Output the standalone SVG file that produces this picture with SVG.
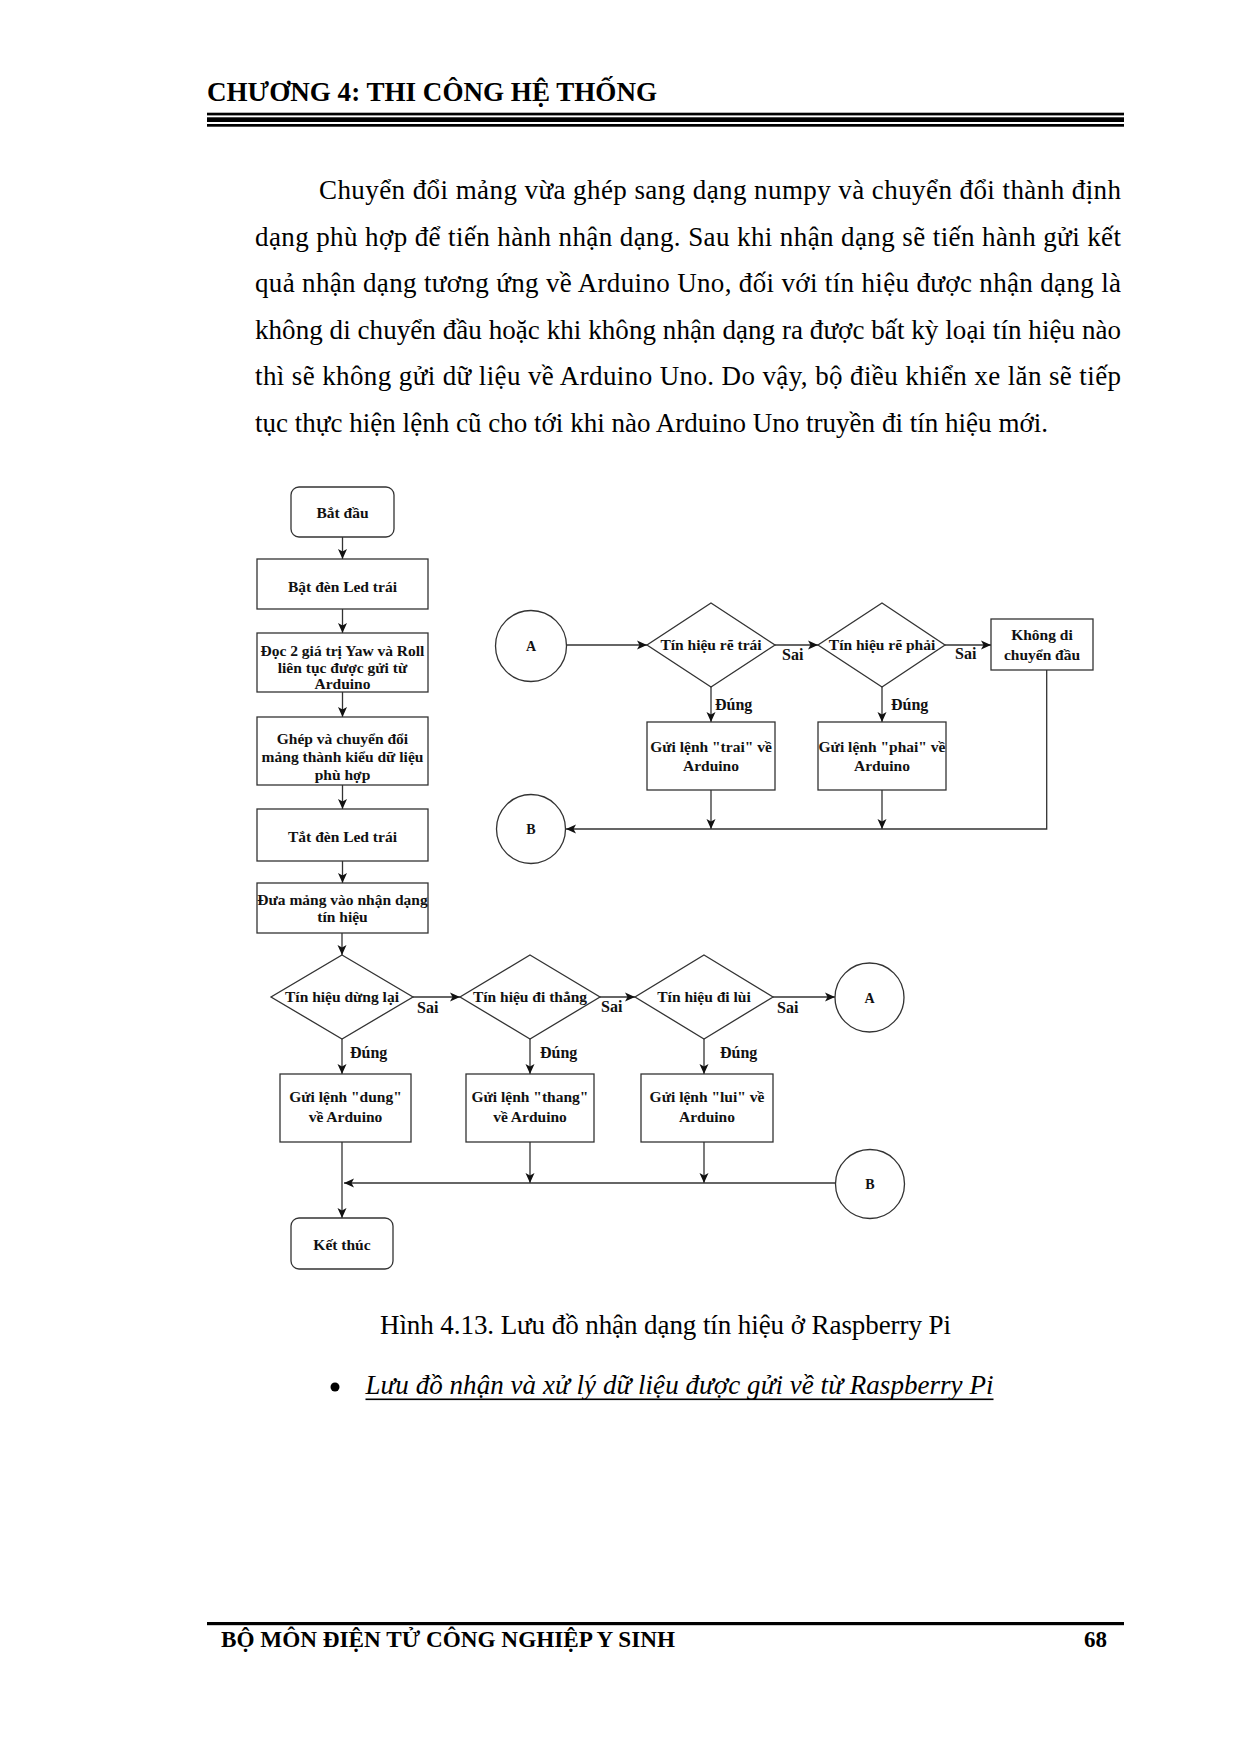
<svg xmlns="http://www.w3.org/2000/svg" width="1241" height="1753" viewBox="0 0 1241 1753">
<style>
.page{font-family:"Liberation Serif","Times New Roman",serif;fill:#000}
.body{font-size:27px}
.hdr{font-size:27px;font-weight:bold}
.ftr{font-size:23px;font-weight:bold}
.nt{font-family:"Liberation Serif","Times New Roman",serif;font-size:15.5px;font-weight:bold;fill:#111;text-anchor:middle}
.lbl{font-family:"Liberation Serif","Times New Roman",serif;font-size:16px;font-weight:bold;fill:#111}
.cl{font-family:"Liberation Serif","Times New Roman",serif;font-size:14px;font-weight:bold;fill:#111;text-anchor:middle}
.box{fill:#fff;stroke:#333;stroke-width:1.3}
.con{fill:none;stroke:#333;stroke-width:1.3}
.arr{marker-end:url(#ah)}
</style>
<defs>
<marker id="ah" markerWidth="11" markerHeight="11" refX="10" refY="5.5" orient="auto" markerUnits="userSpaceOnUse">
<path d="M0,1 L10,5.5 L0,10 L2.5,5.5 z" fill="#111"/>
</marker>
</defs>
<rect width="1241" height="1753" fill="#fff"/>

<g id="header" class="page">
<text class="hdr" x="207" y="101" textLength="450" lengthAdjust="spacingAndGlyphs">CHƯƠNG 4: THI CÔNG HỆ THỐNG</text>
<rect x="207" y="112.7" width="917" height="2.7"/>
<rect x="207" y="117.3" width="917" height="4.7"/>
<rect x="207" y="124" width="917" height="2.7"/>
</g>

<g id="paragraph" class="page body">
<text x="319" y="199" textLength="802" lengthAdjust="spacing">Chuyển đổi mảng vừa ghép sang dạng numpy và chuyển đổi thành định</text>
<text x="255" y="245.5" textLength="866" lengthAdjust="spacing">dạng phù hợp để tiến hành nhận dạng. Sau khi nhận dạng sẽ tiến hành gửi kết</text>
<text x="255" y="292" textLength="866" lengthAdjust="spacing">quả nhận dạng tương ứng về Arduino Uno, đối với tín hiệu được nhận dạng là</text>
<text x="255" y="338.5" textLength="866" lengthAdjust="spacing">không di chuyển đầu hoặc khi không nhận dạng ra được bất kỳ loại tín hiệu nào</text>
<text x="255" y="385" textLength="866" lengthAdjust="spacing">thì sẽ không gửi dữ liệu về Arduino Uno. Do vậy, bộ điều khiển xe lăn sẽ tiếp</text>
<text x="255" y="431.5" textLength="793" lengthAdjust="spacing">tục thực hiện lệnh cũ cho tới khi nào Arduino Uno truyền đi tín hiệu mới.</text>
</g>

<g id="connectors">
<line class="con arr" x1="342.5" y1="537" x2="342.5" y2="559"/>
<line class="con arr" x1="342.5" y1="609" x2="342.5" y2="633"/>
<line class="con arr" x1="342.5" y1="692" x2="342.5" y2="717"/>
<line class="con arr" x1="342.5" y1="785" x2="342.5" y2="809"/>
<line class="con arr" x1="342.5" y1="861" x2="342.5" y2="883"/>
<line class="con arr" x1="342" y1="933" x2="342" y2="955"/>
<line class="con arr" x1="413" y1="997" x2="460" y2="997"/>
<line class="con arr" x1="600" y1="997" x2="635" y2="997"/>
<line class="con arr" x1="773" y1="997" x2="835" y2="997"/>
<line class="con arr" x1="342" y1="1039" x2="342" y2="1074"/>
<line class="con arr" x1="530" y1="1039" x2="530" y2="1074"/>
<line class="con arr" x1="704" y1="1039" x2="704" y2="1074"/>
<line class="con arr" x1="342" y1="1142" x2="342" y2="1218"/>
<line class="con arr" x1="530" y1="1142" x2="530" y2="1183"/>
<line class="con arr" x1="704" y1="1142" x2="704" y2="1183"/>
<line class="con arr" x1="835.5" y1="1183" x2="344" y2="1183"/>
<line class="con arr" x1="566.5" y1="645" x2="647" y2="645"/>
<line class="con arr" x1="775" y1="645" x2="818" y2="645"/>
<line class="con arr" x1="945" y1="645" x2="991" y2="645"/>
<line class="con arr" x1="711" y1="687" x2="711" y2="722"/>
<line class="con arr" x1="882" y1="687" x2="882" y2="722"/>
<line class="con arr" x1="711" y1="790" x2="711" y2="829"/>
<line class="con arr" x1="882" y1="790" x2="882" y2="829"/>
<polyline class="con arr" points="1046.7,670 1046.7,829 566,829"/>
</g>

<g id="n-start"><rect class="box" x="291" y="487" width="103" height="50" rx="8"/><text class="nt" x="342.5" y="518">Bắt đầu</text></g>
<g id="n-ledon"><rect class="box" x="257" y="559" width="171" height="50"/><text class="nt" x="342.5" y="592">Bật đèn Led trái</text></g>
<g id="n-read"><rect class="box" x="257" y="633" width="171" height="59"/><text class="nt" x="342.5" y="655.5">Đọc 2 giá trị Yaw và Roll</text><text class="nt" x="342.5" y="672.5">liên tục được gửi từ</text><text class="nt" x="342.5" y="689">Arduino</text></g>
<g id="n-merge"><rect class="box" x="257" y="717" width="171" height="68"/><text class="nt" x="342.5" y="743.5">Ghép và chuyển đổi</text><text class="nt" x="342.5" y="762">mảng thành kiểu dữ liệu</text><text class="nt" x="342.5" y="780">phù hợp</text></g>
<g id="n-ledoff"><rect class="box" x="257" y="809" width="171" height="52"/><text class="nt" x="342.5" y="842">Tắt đèn Led trái</text></g>
<g id="n-recog"><rect class="box" x="257" y="883" width="171" height="50"/><text class="nt" x="342.5" y="905">Đưa mảng vào nhận dạng</text><text class="nt" x="342.5" y="922">tín hiệu</text></g>

<g id="d-stop"><polygon class="box" points="342,955 413,997 342,1039 271,997"/><text class="nt" x="342" y="1001.5">Tín hiệu dừng lại</text></g>
<g id="d-straight"><polygon class="box" points="530,955 600,997 530,1039 460,997"/><text class="nt" x="530" y="1001.5">Tín hiệu đi thẳng</text></g>
<g id="d-back"><polygon class="box" points="704,955 773,997 704,1039 635,997"/><text class="nt" x="704" y="1001.5">Tín hiệu đi lùi</text></g>
<g id="c-a2"><circle class="box" cx="869.5" cy="997.5" r="34.5"/><text class="cl" x="869.5" y="1002.5">A</text></g>
<g id="n-dung"><rect class="box" x="280" y="1074" width="131" height="68"/><text class="nt" x="345.5" y="1102">Gửi lệnh "dung"</text><text class="nt" x="345.5" y="1122">về Arduino</text></g>
<g id="n-thang"><rect class="box" x="466" y="1074" width="128" height="68"/><text class="nt" x="530" y="1102">Gửi lệnh "thang"</text><text class="nt" x="530" y="1122">về Arduino</text></g>
<g id="n-lui"><rect class="box" x="641" y="1074" width="132" height="68"/><text class="nt" x="707" y="1102">Gửi lệnh "lui" về</text><text class="nt" x="707" y="1122">Arduino</text></g>
<g id="c-b2"><circle class="box" cx="870" cy="1184" r="34.5"/><text class="cl" x="870" y="1189">B</text></g>
<g id="n-end"><rect class="box" x="291" y="1218" width="102" height="51" rx="8"/><text class="nt" x="342" y="1250">Kết thúc</text></g>

<g id="c-a1"><circle class="box" cx="531" cy="646" r="35.5"/><text class="cl" x="531" y="651">A</text></g>
<g id="d-left"><polygon class="box" points="711,603 775,645 711,687 647,645"/><text class="nt" x="711" y="649.5">Tín hiệu rẽ trái</text></g>
<g id="d-right"><polygon class="box" points="882,603 945,645 882,687 818,645"/><text class="nt" x="882" y="649.5">Tín hiệu rẽ phải</text></g>
<g id="n-nomove"><rect class="box" x="991" y="619" width="102" height="51"/><text class="nt" x="1042" y="640">Không di</text><text class="nt" x="1042" y="659.5">chuyển đầu</text></g>
<g id="n-trai"><rect class="box" x="647" y="722" width="128" height="68"/><text class="nt" x="711" y="752">Gửi lệnh "trai" về</text><text class="nt" x="711" y="771">Arduino</text></g>
<g id="n-phai"><rect class="box" x="818" y="722" width="128" height="68"/><text class="nt" x="882" y="752">Gửi lệnh "phai" về</text><text class="nt" x="882" y="771">Arduino</text></g>
<g id="c-b1"><circle class="box" cx="531" cy="829" r="34.5"/><text class="cl" x="531" y="834">B</text></g>

<g id="labels">
<text class="lbl" x="782" y="660">Sai</text>
<text class="lbl" x="955" y="659">Sai</text>
<text class="lbl" x="715" y="709.5">Đúng</text>
<text class="lbl" x="891" y="709.5">Đúng</text>
<text class="lbl" x="417" y="1013">Sai</text>
<text class="lbl" x="601" y="1011.5">Sai</text>
<text class="lbl" x="777" y="1012.5">Sai</text>
<text class="lbl" x="350" y="1058">Đúng</text>
<text class="lbl" x="540" y="1058">Đúng</text>
<text class="lbl" x="720" y="1058">Đúng</text>
</g>

<g id="caption" class="page body">
<text x="380" y="1334" textLength="571" lengthAdjust="spacing">Hình 4.13. Lưu đồ nhận dạng tín hiệu ở Raspberry Pi</text>
</g>

<g id="bullet" class="page body">
<circle cx="335" cy="1387" r="4.5"/>
<text x="365.5" y="1394" font-style="italic" textLength="628" lengthAdjust="spacing">Lưu đồ nhận và xử lý dữ liệu được gửi về từ Raspberry Pi</text>
<rect x="365.5" y="1398.5" width="628" height="1.6"/>
</g>

<g id="footer" class="page">
<rect x="207" y="1622" width="917" height="3.2"/>
<text class="ftr" x="221" y="1647" textLength="454" lengthAdjust="spacingAndGlyphs">BỘ MÔN ĐIỆN TỬ CÔNG NGHIỆP Y SINH</text>
<text class="ftr" x="1084" y="1647">68</text>
</g>
</svg>
